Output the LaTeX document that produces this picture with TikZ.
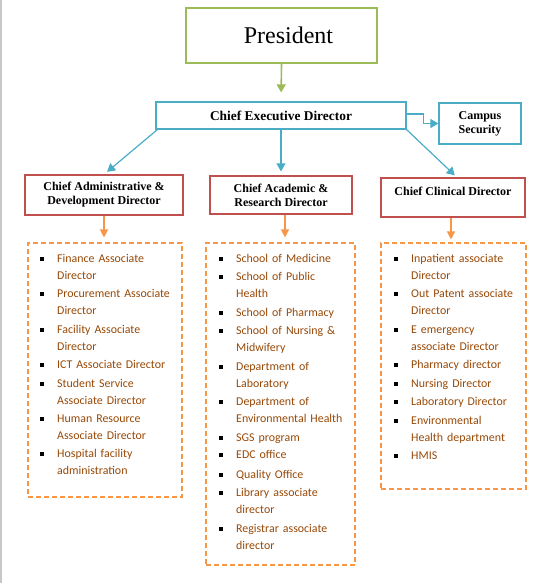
\documentclass[tikz,border=0pt]{standalone}
\usepackage{fontspec}
\setmainfont{Liberation Serif}
\newfontfamily\itemfont{Carlito}
\usetikzlibrary{arrows.meta}
\definecolor{pgreen}{HTML}{9BBB59}
\definecolor{pblue}{HTML}{4BACC6}
\definecolor{pred}{HTML}{C0504D}
\definecolor{porange}{HTML}{F79646}
\definecolor{pbrown}{HTML}{974806}
\definecolor{pgray}{HTML}{C8C8C8}
\newcommand\itm[4]{%
  \node[itemtxt] (#1) at (#2,#3+3.8) {#4};
  \fill (#2-17,#3-2) rectangle (#2-13,#3+2);}
\begin{document}
\begin{tikzpicture}[x=1pt,y=-1pt,
  presbox/.style={draw=pgreen,line width=2,minimum width=191,minimum height=55,inner sep=0,font=\fontsize{24}{28}\selectfont},
  bluebox/.style={draw=pblue,line width=1.2,inner sep=0,align=center,font=\bfseries\fontsize{12}{14}\selectfont},
  redbox/.style={draw=pred,line width=1.2,inner sep=0,align=center,font=\bfseries\fontsize{12}{14}\selectfont},
  dbox/.style={draw=porange,line width=1.1,dash pattern=on 5 off 3,inner sep=0},
  garr/.style={draw=pgreen,line width=1.6,-{Triangle[length=8,width=9]}},
  barr/.style={draw=pblue,line width=1.2,-{Triangle[length=8,width=9]}},
  oarr/.style={draw=porange,line width=1.2,-{Triangle[length=8,width=8]}},
  itemtxt/.style={anchor=base west,inner sep=0,text width=140,align=left,text=pbrown,font=\itemfont\fontsize{11.9}{16.8}\selectfont},
]
\useasboundingbox (0,0) rectangle (550,583);
\draw[pgray,line width=1.5] (1,0) -- (1,583);

\node[presbox] (pres) at (281.5,35.5) {\hspace*{14pt}President};
\node[bluebox,minimum width=250,minimum height=27,font=\bfseries\fontsize{13.4}{15}\selectfont] (ced) at (281,115.5) {Chief Executive Director};
\node[bluebox,minimum width=82,minimum height=41] (cs) at (480,123.5) {Campus\\Security};

\node[redbox,minimum width=158,minimum height=40] (ld) at (104,195) {Chief Administrative \&\\Development Director};
\node[redbox,minimum width=142,minimum height=38] (md) at (281,195) {Chief Academic \&\\Research Director};
\node[redbox,minimum width=144,minimum height=39] (rd) at (453,197.5) {\raisebox{13pt}{Chief Clinical Director}};

\node[dbox,minimum width=154,minimum height=254] (lb) at (105,370) {};
\node[dbox,minimum width=149,minimum height=322] (mb) at (280.5,404) {};
\node[dbox,minimum width=145,minimum height=246] (rb) at (453.5,366) {};

\draw[garr,shorten >=9] (pres.south) -- (ced.north);
\draw[barr] ([yshift=1.5]ced.east) -- ++(17,0) |- (cs.west);
\draw[barr,shorten >=4] ([xshift=2]ced.south west) -- (ld.north);
\draw[barr,shorten >=4] (ced.south) -- (md.north);
\draw[barr,shorten >=3] (ced.south east) -- ([xshift=4]rd.north);
\draw[oarr,shorten >=5] (ld.south) -- (ld.south |- lb.north);
\draw[oarr,shorten >=5] ([xshift=4]md.south) -- ([xshift=4]md.south |- mb.north);
\draw[oarr,shorten >=3] ([xshift=-2]rd.south) -- ([xshift=-2]rd.south |- rb.north);

\itm{a1}{57}{259}{Finance Associate\\Director}
\itm{a2}{57}{294}{Procurement Associate\\Director}
\itm{a3}{57}{330}{Facility Associate\\Director}
\itm{a4}{57}{365}{ICT Associate Director}
\itm{a5}{57}{384}{Student Service\\Associate Director}
\itm{a6}{57}{419}{Human Resource\\Associate Director}
\itm{a7}{57}{454}{Hospital facility\\administration}

\itm{b1}{236}{259}{School of Medicine}
\itm{b2}{236}{277}{School of Public\\Health}
\itm{b3}{236}{313}{School of Pharmacy}
\itm{b4}{236}{331}{School of Nursing \&\\Midwifery}
\itm{b5}{236}{367}{Department of\\Laboratory}
\itm{b6}{236}{402}{Department of\\Environmental Health}
\itm{b7}{236}{438}{SGS program}
\itm{b8}{236}{455}{EDC office}
\itm{b9}{236}{475}{Quality Office}
\itm{b10}{236}{493}{Library associate\\director}
\itm{b11}{236}{529}{Registrar associate\\director}

\itm{c1}{411}{259}{Inpatient associate\\Director}
\itm{c2}{411}{294}{Out Patent associate\\Director}
\itm{c3}{411}{330}{E emergency\\associate Director}
\itm{c4}{411}{365}{Pharmacy director}
\itm{c5}{411}{384}{Nursing Director}
\itm{c6}{411}{402}{Laboratory Director}
\itm{c7}{411}{421}{Environmental\\Health department}
\itm{c8}{411}{456}{HMIS}
\end{tikzpicture}
\end{document}
